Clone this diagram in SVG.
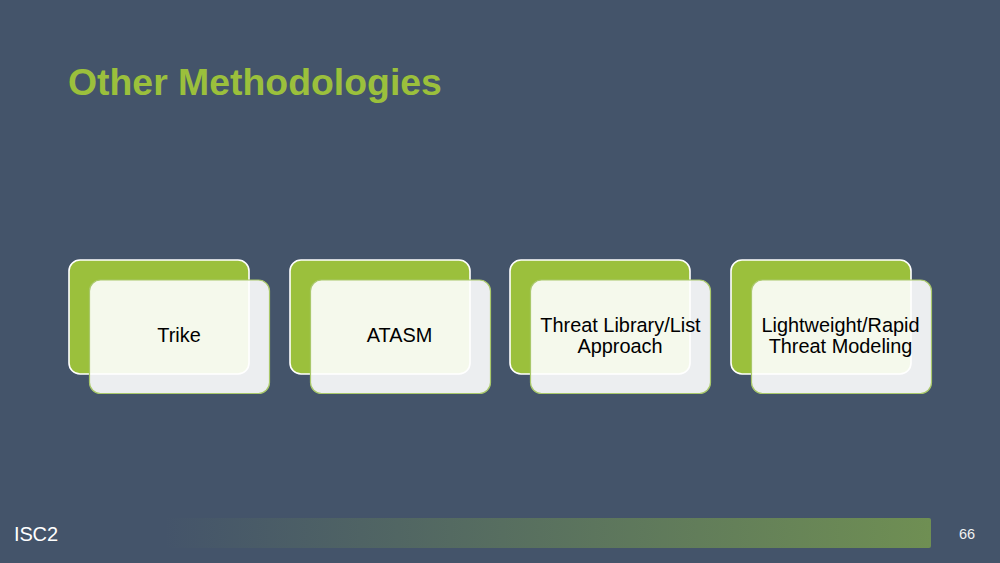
<svg xmlns="http://www.w3.org/2000/svg" width="1000" height="563" viewBox="0 0 1000 563">
<style>
text{font-family:"Liberation Sans",Arial,sans-serif}
.back{fill:#9BC03C;stroke:#fff;stroke-width:1.6}
.front{fill:#fff;fill-opacity:.9;stroke:#A9C86A;stroke-width:1.2}
.lbl{font-size:19.900px;fill:#000;text-anchor:middle}
</style>
<defs>
<linearGradient id="bar" x1="0" x2="1" y1="0" y2="0">
<stop offset="0" stop-color="#6F8F53" stop-opacity="0"/>
<stop offset="1" stop-color="#6F8F53"/>
</linearGradient>
</defs>
<rect width="1000" height="563" fill="#44546A"/>
<text x="68" y="95" font-size="37.400" font-weight="bold" fill="#9BC03C">Other Methodologies</text>
<g id="connectors"/>
<g id="node-trike">
<rect class="back" x="69" y="260" width="180" height="114" rx="11"/>
<rect class="front" x="89.500" y="280" width="180" height="113.500" rx="11"/>
<text class="lbl" x="179" y="342">Trike</text>
</g>
<g id="node-atasm">
<rect class="back" x="290" y="260" width="180" height="114" rx="11"/>
<rect class="front" x="310.500" y="280" width="180" height="113.500" rx="11"/>
<text class="lbl" x="399.500" y="342">ATASM</text>
</g>
<g id="node-library">
<rect class="back" x="510" y="260" width="180" height="114" rx="11"/>
<rect class="front" x="530.500" y="280" width="180" height="113.500" rx="11"/>
<text class="lbl" x="620.500" y="332">Threat Library/List</text>
<text class="lbl" x="620" y="353">Approach</text>
</g>
<g id="node-rapid">
<rect class="back" x="731" y="260" width="180" height="114" rx="11"/>
<rect class="front" x="751.500" y="280" width="180" height="113.500" rx="11"/>
<text class="lbl" x="840.500" y="332">Lightweight/Rapid</text>
<text class="lbl" x="840.500" y="353">Threat Modeling</text>
</g>
<rect x="165" y="518" width="766" height="30" rx="2" fill="url(#bar)"/>
<text x="14" y="541" font-size="20" fill="#fff" textLength="44" lengthAdjust="spacing">ISC2</text>
<text x="967" y="539" font-size="14.500" fill="#F2F2F2" text-anchor="middle">66</text>
</svg>
